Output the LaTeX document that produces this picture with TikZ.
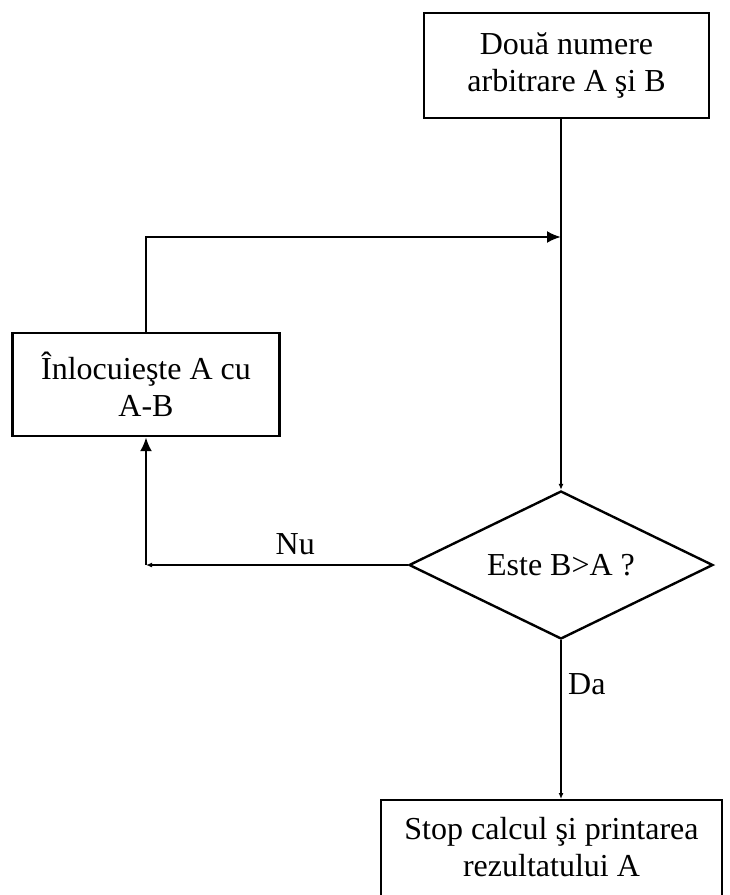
\documentclass[tikz,border=0pt]{standalone}
\usepackage{fontspec}
\setmainfont{Liberation Serif}
\usepackage{tikz}
\usetikzlibrary{arrows,arrows.meta,shapes,positioning,calc}

\begin{document}
\begin{tikzpicture}[x=1pt,y=-1pt,font=\fontsize{32}{37}\selectfont]
	\tikzstyle{every node}=[inner sep=0pt]
	\tikzstyle{box}=[draw,line width=2.4pt,align=center]
	\tikzstyle{line}=[draw,line width=2.4pt]
	\tikzstyle{tip}=[-{Latex[length=14pt,width=12pt]}]
	\tikzstyle{smalltip}=[-{Latex[length=6pt,width=5pt]}]
	\useasboundingbox (0,0) rectangle (729,895);
	
	\node[box,minimum width=285,minimum height=105](start) at (566.5,65.5){Două numere\\arbitrare A şi B};
	\node[box,minimum width=267,minimum height=103](repl) at (146,384.5){Înlocuieşte A cu\\A-B};
	\node[box,diamond,aspect=2.05,minimum width=304,minimum height=148](test) at (561,565){Este B>A ?};
	\node[box,anchor=north,minimum width=341,inner ysep=17pt](stop) at (551.5,799){Stop calcul şi printarea\\rezultatului A\rule[-40pt]{0pt}{40pt}};
	\coordinate (join) at (561,237);
	
	\path[line,smalltip] (start.south -| test.north) -- (test.north);
	\path[line,tip] (repl.north) |- (join);
	\path[line,smalltip] (test.west) -- node[pos=0.43,above=9pt]{Nu} (test.west -| repl.south);
	\path[line,tip] (test.west -| repl.south) -- (repl.south);
	\path[line,smalltip] (test.south) -- node[pos=0.28,right=6pt]{Da} (test.south |- stop.north);
\end{tikzpicture}
\end{document}
